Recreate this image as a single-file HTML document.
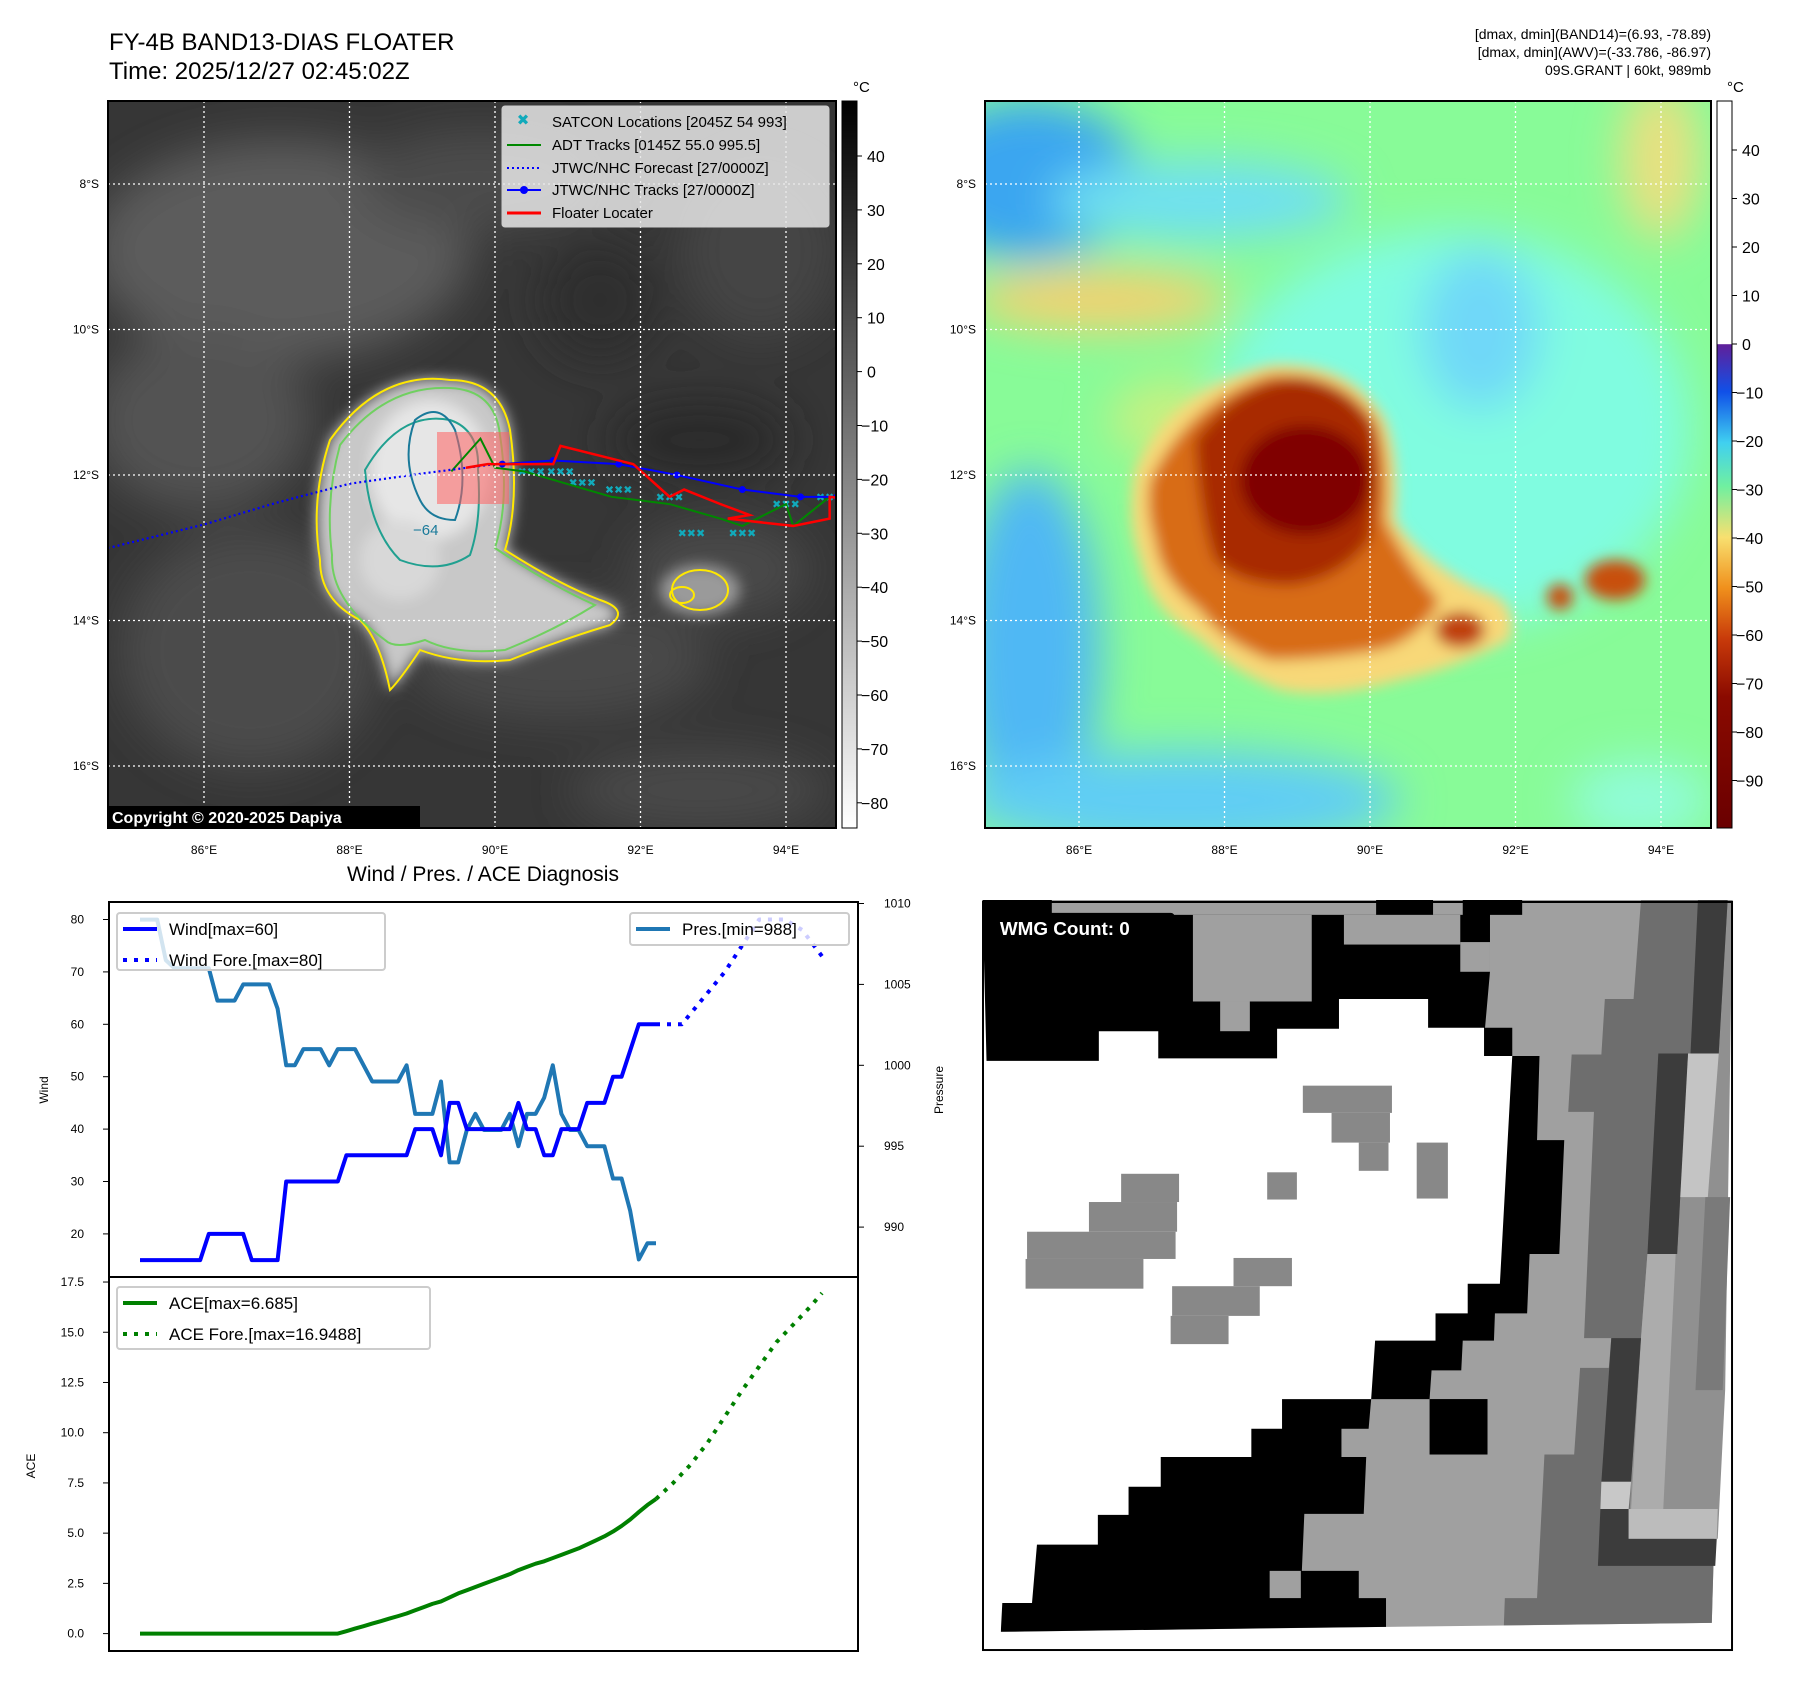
<!DOCTYPE html>
<html><head><meta charset="utf-8"><style>
body{margin:0;background:#fff}
svg text{font-family:"Liberation Sans","DejaVu Sans",sans-serif}
</style></head><body>
<svg id="s" width="1801" height="1690" viewBox="0 0 1801 1690" xmlns="http://www.w3.org/2000/svg">
<defs>
<filter id="b8" x="-50%" y="-50%" width="200%" height="200%"><feGaussianBlur stdDeviation="7"/></filter>
<filter id="b20" x="-50%" y="-50%" width="200%" height="200%"><feGaussianBlur stdDeviation="22"/></filter>
<filter id="b4" x="-50%" y="-50%" width="200%" height="200%"><feGaussianBlur stdDeviation="4"/></filter>
<clipPath id="cl"><rect x="108" y="101" width="728" height="727"/></clipPath>
<clipPath id="cr"><rect x="985" y="101" width="726" height="727"/></clipPath>
<linearGradient id="gcb" x1="0" y1="0" x2="0" y2="1"><stop offset="0" stop-color="#000"/><stop offset="1" stop-color="#fff"/></linearGradient>
<linearGradient id="jcb" x1="0" y1="0" x2="0" y2="1">
<stop offset="0" stop-color="#fff"/><stop offset="0.334" stop-color="#fff"/><stop offset="0.335" stop-color="#60209a"/>
<stop offset="0.4" stop-color="#1050e8"/><stop offset="0.47" stop-color="#40d0f0"/><stop offset="0.53" stop-color="#70f0a0"/>
<stop offset="0.6" stop-color="#f8e070"/><stop offset="0.67" stop-color="#f0901c"/><stop offset="0.74" stop-color="#c83a0a"/>
<stop offset="0.82" stop-color="#8a0a00"/><stop offset="1" stop-color="#6a0000"/></linearGradient>
</defs>

<text x="109" y="50" font-size="24">FY-4B BAND13-DIAS FLOATER</text>
<text x="109" y="79" font-size="24">Time: 2025/12/27 02:45:02Z</text>
<g font-size="14" text-anchor="end">
<text x="1711" y="39">[dmax, dmin](BAND14)=(6.93, -78.89)</text>
<text x="1711" y="57">[dmax, dmin](AWV)=(-33.786, -86.97)</text>
<text x="1711" y="75">09S.GRANT | 60kt, 989mb</text>
</g>

<!-- LEFT MAP -->
<g clip-path="url(#cl)">
<rect x="108" y="101" width="728" height="727" fill="#363636"/>
<g filter="url(#b20)">
<ellipse cx="280" cy="250" rx="190" ry="110" fill="#5c5c5c"/>
<ellipse cx="200" cy="420" rx="110" ry="90" fill="#525252"/>
<ellipse cx="480" cy="180" rx="120" ry="50" fill="#4c4c4c"/>
<ellipse cx="250" cy="650" rx="130" ry="120" fill="#4c4c4c"/>
<ellipse cx="560" cy="660" rx="150" ry="60" fill="#4a4a4a"/>
<ellipse cx="760" cy="250" rx="80" ry="90" fill="#444"/>
<ellipse cx="720" cy="570" rx="90" ry="50" fill="#4a4a4a"/>
<ellipse cx="700" cy="790" rx="130" ry="40" fill="#4a4a4a"/>
<ellipse cx="700" cy="440" rx="90" ry="40" fill="#2a2a2a"/>
<ellipse cx="600" cy="300" rx="60" ry="60" fill="#2e2e2e"/>
</g>
<g filter="url(#b8)">
<path d="M330 440 Q380 370 450 380 Q500 380 510 430 Q520 500 505 550 Q560 585 600 600 Q630 610 610 625 Q560 640 510 660 Q460 665 420 650 Q400 680 390 690 Q380 640 360 620 Q320 600 320 560 Q310 500 330 440Z" fill="#c8c8c8"/>
<ellipse cx="430" cy="470" rx="60" ry="70" fill="#e6e6e6"/>
<ellipse cx="400" cy="560" rx="40" ry="40" fill="#d8d8d8"/>
<ellipse cx="700" cy="590" rx="40" ry="25" fill="#9a9a9a"/>
</g>
<path d="M330 440 Q380 370 450 380 Q500 380 510 430 Q520 500 505 550 Q560 585 600 600 Q630 610 610 625 Q560 640 510 660 Q460 665 420 650 Q400 680 390 690 Q380 640 360 620 Q320 600 320 560 Q310 500 330 440Z" fill="none" stroke="#ffe800" stroke-width="2"/>
<path d="M340 445 Q385 385 450 388 Q495 390 500 435 Q510 500 495 548 Q550 585 595 605 Q555 630 505 650 Q455 655 425 640 Q395 650 385 640 Q330 600 332 555 Q325 500 340 445Z" fill="none" stroke="#70d060" stroke-width="2"/>
<path d="M365 470 Q400 410 450 420 Q480 430 478 470 Q482 520 470 555 Q440 575 400 560 Q370 530 365 470Z" fill="none" stroke="#20a090" stroke-width="2"/>
<path d="M415 420 Q440 400 455 430 Q470 480 455 520 Q430 520 420 500 Q400 460 415 420Z" fill="none" stroke="#1a7a9a" stroke-width="2"/>
<text x="413" y="535" font-size="15" fill="#1a7a9a">−64</text>
<ellipse cx="700" cy="590" rx="28" ry="20" fill="none" stroke="#ffe800" stroke-width="2"/>
<ellipse cx="682" cy="595" rx="12" ry="8" fill="none" stroke="#ffe800" stroke-width="2"/>
<rect x="437" y="432" width="72" height="72" fill="#ff6060" opacity="0.55"/>
<g id="maptracks"></g>
</g>
<g stroke="#fff" stroke-width="1.3" stroke-dasharray="2,3" id="lgrid"></g>
<rect x="108" y="101" width="728" height="727" fill="none" stroke="#000" stroke-width="2"/>
<rect x="108" y="806" width="312" height="22" fill="#000"/>
<text x="112" y="823" font-size="16" font-weight="bold" fill="#fff">Copyright © 2020-2025 Dapiya</text>
<g>
<rect x="502" y="106" width="327" height="121" rx="3" fill="#e6e6e6" fill-opacity="0.85" stroke="#ccc"/>
<text x="523" y="125" font-size="15" fill="#1ab" text-anchor="middle" font-weight="bold">✖</text>
<text x="552" y="127" font-size="15">SATCON Locations [2045Z 54 993]</text>
<line x1="507" y1="145" x2="541" y2="145" stroke="#080" stroke-width="2"/>
<text x="552" y="150" font-size="15">ADT Tracks [0145Z 55.0 995.5]</text>
<line x1="507" y1="168" x2="541" y2="168" stroke="#00f" stroke-width="2" stroke-dasharray="2,3"/>
<text x="552" y="173" font-size="15">JTWC/NHC Forecast [27/0000Z]</text>
<line x1="507" y1="190" x2="541" y2="190" stroke="#00f" stroke-width="2"/><circle cx="524" cy="190" r="4" fill="#00f"/>
<text x="552" y="195" font-size="15">JTWC/NHC Tracks [27/0000Z]</text>
<line x1="507" y1="213" x2="541" y2="213" stroke="#f00" stroke-width="3"/>
<text x="552" y="218" font-size="15">Floater Locater</text>
</g>
<rect x="842" y="101" width="15" height="727" fill="url(#gcb)" stroke="#000"/>
<text x="853" y="92" font-size="15">°C</text>
<g id="lcb" font-size="16"></g>

<!-- RIGHT MAP -->
<g clip-path="url(#cr)">
<rect x="985" y="101" width="726" height="727" fill="#88fb98"/>
<g filter="url(#b20)">
<ellipse cx="1450" cy="430" rx="240" ry="200" fill="#80fce0"/>
<ellipse cx="1480" cy="330" rx="60" ry="80" fill="#6fd8f8"/>
<ellipse cx="1030" cy="180" rx="110" ry="80" fill="#3aa6f0"/>
<ellipse cx="1200" cy="200" rx="150" ry="40" fill="#70e0f0"/>
<ellipse cx="1030" cy="650" rx="70" ry="180" fill="#50b8f4"/>
<ellipse cx="1180" cy="800" rx="220" ry="50" fill="#60cdf4"/>
<ellipse cx="1640" cy="800" rx="70" ry="40" fill="#90fcd8"/>
<ellipse cx="1100" cy="300" rx="130" ry="30" fill="#f6d070"/>
<ellipse cx="1170" cy="420" rx="60" ry="40" fill="#c8f080"/>
<ellipse cx="1660" cy="160" rx="40" ry="80" fill="#e8e080"/>
</g>
<g filter="url(#b8)">
<path d="M1135 470 Q1170 390 1270 365 Q1350 360 1385 420 Q1400 460 1395 520 Q1420 560 1480 590 Q1520 600 1510 640 Q1450 670 1400 680 Q1330 700 1280 690 Q1230 670 1200 640 Q1150 610 1140 560 Q1125 520 1135 470Z" fill="#f8d878"/>
<path d="M1150 480 Q1190 400 1270 375 Q1340 370 1375 420 Q1390 460 1385 520 Q1410 570 1440 600 Q1420 640 1380 650 Q1320 660 1270 660 Q1220 640 1200 610 Q1160 580 1155 540 Q1145 510 1150 480Z" fill="#d86c18"/>
<path d="M1195 440 Q1240 380 1300 378 Q1350 385 1375 430 Q1380 490 1370 540 Q1340 580 1290 585 Q1240 585 1215 560 Q1200 520 1195 440Z" fill="#a82c04"/>
<ellipse cx="1305" cy="480" rx="65" ry="55" fill="#800000"/>
<ellipse cx="1615" cy="580" rx="30" ry="20" fill="#c85010"/>
<ellipse cx="1560" cy="597" rx="13" ry="13" fill="#c85010"/>
<ellipse cx="1460" cy="630" rx="25" ry="18" fill="#c04010"/>
</g>
</g>
<g stroke="#fff" stroke-width="1.3" stroke-dasharray="2,3" id="rgrid"></g>
<rect x="985" y="101" width="726" height="727" fill="none" stroke="#000" stroke-width="2"/>
<rect x="1717" y="101" width="15" height="727" fill="url(#jcb)" stroke="#000"/>
<text x="1727" y="92" font-size="15">°C</text>
<g id="rcb" font-size="16"></g>

<text x="483" y="881" font-size="21" text-anchor="middle">Wind / Pres. / ACE Diagnosis</text>
<g id="chart"></g>

<!-- WMG -->
<g transform="translate(983,902) scale(0.9934) translate(-988,-907)">
<rect x="988" y="907" width="754" height="753" fill="#fff"/>
<g transform="translate(985,900) scale(0.4984)">
<polygon points="20,10 1520,10 1478,1470 42,1488" fill="#a0a0a0"/>
<polygon points="5,10 1095,10 1095,40 1030,40 1030,155 1020,268 1075,268 1075,325 1130,325 1125,495 1180,495 1170,725 1110,725 1105,845 1040,845 1038,900 975,900 972,960 912,960 908,1018 790,1018 780,1135 775,1250 655,1250 650,1365 765,1365 765,1420 820,1420 820,1478 42,1488" fill="#000"/>
<polygon points="5,335 240,335 240,275 360,275 360,330 600,330 600,270 725,270 725,210 905,210 905,268 1018,268 1018,325 1075,325 1050,785 985,785 985,845 920,845 920,900 798,900 790,1018 610,1018 610,1078 548,1078 548,1135 365,1135 365,1195 300,1195 300,1252 238,1252 238,1312 115,1312 105,1430 45,1430 42,1488 5,1488" fill="#fff"/>
<g fill="#a0a0a0">
<rect x="145" y="10" width="655" height="30"/><rect x="430" y="40" width="240" height="175"/><rect x="485" y="215" width="60" height="60"/>
<rect x="735" y="40" width="235" height="60"/><rect x="915" y="10" width="60" height="30"/><rect x="970" y="95" width="60" height="60"/>
<rect x="730" y="1078" width="60" height="57"/><rect x="585" y="1365" width="63" height="55"/></g>
<rect x="908" y="1018" width="117" height="112" fill="#000"/>
<g fill="#888">
<rect x="652" y="385" width="180" height="55"/><rect x="710" y="440" width="118" height="60"/><rect x="765" y="500" width="60" height="57"/>
<rect x="882" y="500" width="63" height="113"/><rect x="580" y="560" width="60" height="55"/><rect x="285" y="563" width="117" height="57"/>
<rect x="220" y="620" width="178" height="60"/><rect x="95" y="680" width="300" height="55"/><rect x="92" y="735" width="238" height="60"/>
<rect x="512" y="733" width="118" height="57"/><rect x="388" y="790" width="177" height="60"/><rect x="385" y="850" width="117" height="57"/></g>
<polygon points="1335,10 1520,10 1478,1470 1058,1475 1060,1420 1125,1420 1140,1130 1200,1130 1212,955 1270,955 1275,895 1220,895 1240,438 1188,438 1195,322 1255,322 1262,210 1320,210" fill="#6e6e6e"/>
<polygon points="1348,725 1408,725 1430,320 1492,320 1510,10 1520,10 1505,1000 1490,1300 1310,1300 1315,1185 1335,895" fill="#909090"/>
<polygon points="1430,320 1492,320 1470,610 1410,610" fill="#c4c4c4"/>
<polygon points="1348,725 1405,725 1380,1240 1315,1240 1335,895" fill="#acacac"/>
<polygon points="1465,610 1515,610 1500,1000 1445,1000" fill="#7a7a7a"/>
<polygon points="1450,10 1510,10 1492,320 1435,320" fill="#3c3c3c"/>
<polygon points="1370,320 1430,320 1408,725 1348,725" fill="#3c3c3c"/>
<polygon points="1275,895 1335,895 1315,1185 1255,1185" fill="#3c3c3c"/>
<polygon points="1255,1185 1315,1185 1310,1240 1253,1240" fill="#c8c8c8"/>
<polygon points="1253,1240 1310,1240 1310,1300 1488,1300 1485,1355 1248,1355" fill="#3c3c3c"/>
<polygon points="1310,1240 1490,1240 1488,1300 1310,1300" fill="#bcbcbc"/>
</g>
<rect x="998" y="918" width="183" height="30" rx="4" fill="#000"/>
<text x="1005" y="940" font-size="19" font-weight="bold" fill="#fff">WMG Count: 0</text>
<rect x="988" y="907" width="754" height="753" fill="none" stroke="#000" stroke-width="2"/>
</g>
</svg>
<script>
const lonTicks=[86,88,90,92,94];
const latTicks=[8,10,12,14,16];
const lcbTicks=[40,30,20,10,0,-10,-20,-30,-40,-50,-60,-70,-80];
const rcbTicks=[40,30,20,10,0,-10,-20,-30,-40,-50,-60,-70,-80,-90];
const jtwcLon=[90.1,90.8,91.7,92.5,93.4,94.2,94.7];
const jtwcLat=[11.85,11.8,11.85,12.0,12.2,12.3,12.3];
const foreLon=[90.0,89.0,88.0,87.0,86.0,84.7];
const foreLat=[11.85,11.98,12.12,12.38,12.68,13.0];
const floLon=[89.6,89.9,90.8,90.9,91.9,92.4,92.6,93.1,93.5,93.2,94.1,94.6,94.6,95.0];
const floLat=[11.9,11.85,11.85,11.6,11.85,12.3,12.2,12.4,12.55,12.6,12.7,12.6,12.3,12.35];
const adtLon=[89.4,89.8,90.0,90.4,91.6,92.4,93.1,93.4,94.0,94.1,94.6];
const adtLat=[11.95,11.5,11.9,11.95,12.3,12.4,12.6,12.7,12.4,12.7,12.3];
const satLon=[90.5,90.9,91.2,91.7,92.4,92.7,93.4,94.0,94.6];
const satLat=[11.95,11.95,12.1,12.2,12.3,12.8,12.8,12.4,12.3];

const uObs=[0,1,2,3,4,5,6,7,8,9,10,11,12,13,14,15,16,17,18,19,20,21,22,23,24,25,26,27,28,29,30,31,32,33,34,35,36,37,38,39,40,41,42,43,44,45,46,47,48,49,50,51,52,53,54,55,56,57,58,59,60];
const windObs=[15,15,15,15,15,15,15,15,20,20,20,20,20,15,15,15,15,30,30,30,30,30,30,30,35,35,35,35,35,35,35,35,40,40,40,35,45,45,40,40,40,40,40,40,45,40,40,35,35,40,40,40,45,45,45,50,50,55,60,60,60];
const presObs=[1009,1009,1009,1006.5,1006,1006,1006,1006,1006,1004,1004,1004,1005,1005,1005,1005,1003.5,1000,1000,1001,1001,1001,1000,1001,1001,1001,1000,999,999,999,999,1000,997,997,997,999,994,994,996,997,996,996,996,997,995,997,997,998,1000,997,996,996,995,995,995,993,993,991,988,989,989];
const aceObs=[0,0,0,0,0,0,0,0,0,0,0,0,0,0,0,0,0,0,0,0,0,0,0,0,0.12,0.25,0.37,0.5,0.62,0.75,0.87,1.0,1.16,1.32,1.48,1.6,1.8,2.0,2.16,2.32,2.48,2.64,2.8,2.96,3.16,3.32,3.48,3.6,3.76,3.92,4.08,4.24,4.44,4.64,4.84,5.08,5.36,5.68,6.05,6.4,6.7];
const uFore=[60,63,66,68,70,72,75,77,79.3];
const windFore=[60,60,66,70,75,80,80,78,73];
const uAceFore=[60,62,64,66,68,70,72,74,76,78,79.3];
const aceFore=[6.7,7.5,8.4,9.5,10.8,12.1,13.3,14.5,15.4,16.3,16.95];
const windTicks=[20,30,40,50,60,70,80];
const presTicks=[990,995,1000,1005,1010];
const aceTicks=[0,2.5,5,7.5,10,12.5,15,17.5];

const NS='http://www.w3.org/2000/svg';
function mk(p,tag,attrs){const e=document.createElementNS(NS,tag);for(const k in attrs)e.setAttribute(k,attrs[k]);p.appendChild(e);return e;}
const lx=lon=>204+(lon-86)*72.75, ly=lat=>184+(lat-8)*72.75;
const rx=lon=>lx(lon)+875;
const lg=document.getElementById('lgrid'), rg=document.getElementById('rgrid'), svg=document.getElementById('s');
lonTicks.forEach(v=>{
 mk(lg,'line',{x1:lx(v),y1:101,x2:lx(v),y2:828});
 mk(rg,'line',{x1:rx(v),y1:101,x2:rx(v),y2:828});
 let t=mk(svg,'text',{x:lx(v),y:854,'font-size':12,'text-anchor':'middle'});t.textContent=v+'°E';
 
 
 let t2=mk(svg,'text',{x:rx(v),y:854,'font-size':12,'text-anchor':'middle'});t2.textContent=v+'°E';
 
 
});
latTicks.forEach(v=>{
 mk(lg,'line',{x1:108,y1:ly(v),x2:836,y2:ly(v)});
 mk(rg,'line',{x1:985,y1:ly(v),x2:1711,y2:ly(v)});
 let t=mk(svg,'text',{x:99,y:ly(v)+4,'font-size':12,'text-anchor':'end'});t.textContent=v+'°S';
 
 
 let t2=mk(svg,'text',{x:976,y:ly(v)+4,'font-size':12,'text-anchor':'end'});t2.textContent=v+'°S';
 
 
});
const lcb=document.getElementById('lcb');
lcbTicks.forEach(v=>{const y=156+(40-v)*5.39;mk(lcb,'line',{x1:857,y1:y,x2:862,y2:y,stroke:'#000'});
 const t=mk(lcb,'text',{x:(v<0?861:867),y:y+6});t.textContent=(v<0?'−'+(-v):v);
 
 });
const rcb=document.getElementById('rcb');
rcbTicks.forEach(v=>{const y=344-v*4.85;mk(rcb,'line',{x1:1732,y1:y,x2:1737,y2:y,stroke:'#000'});
 const t=mk(rcb,'text',{x:(v<0?1736:1742),y:y+6});t.textContent=(v<0?'−'+(-v):v);
 
 });
const mt=document.getElementById('maptracks');
const pts=(a,b)=>a.map((v,i)=>lx(v)+','+ly(b[i])).join(' ');
satLon.forEach((v,i)=>{const t=mk(mt,'text',{x:lx(v),y:ly(satLat[i])+4,'font-size':11,fill:'#1ab','text-anchor':'middle'});t.textContent='✖✖✖';
 
 });
let e=mk(mt,'polyline',{points:pts(adtLon,adtLat),fill:'none',stroke:'#080','stroke-width':2});


e=mk(mt,'polyline',{points:pts(foreLon,foreLat),fill:'none',stroke:'#00f','stroke-width':2.2,'stroke-dasharray':'2,3'});


e=mk(mt,'polyline',{points:pts(jtwcLon,jtwcLat),fill:'none',stroke:'#00f','stroke-width':2});


jtwcLon.forEach((v,i)=>mk(mt,'circle',{cx:lx(v),cy:ly(jtwcLat[i]),r:3.5,fill:'#00f'}));
e=mk(mt,'polyline',{points:pts(floLon,floLat),fill:'none',stroke:'#f00','stroke-width':2.5});



const ch=document.getElementById('chart');
const L=109,R=858,T=902,M=1277,B=1651;
const X=u=>140+u*8.6, YW=w=>919.5+(80-w)*5.24, YP=p=>903.5+(1010-p)*16.18, YA=a=>1633.6-a*20.09;
mk(ch,'rect',{x:L,y:T,width:R-L,height:B-T,fill:'#fff',stroke:'#000','stroke-width':2});
mk(ch,'line',{x1:L,y1:M,x2:R,y2:M,stroke:'#000','stroke-width':2});
windTicks.forEach(v=>{mk(ch,'line',{x1:L-6,y1:YW(v),x2:L,y2:YW(v),stroke:'#000'});const t=mk(ch,'text',{x:84,y:YW(v)+4,'font-size':12,'text-anchor':'end'});t.textContent=v;
 
 });
presTicks.forEach(v=>{mk(ch,'line',{x1:R,y1:YP(v),x2:R+6,y2:YP(v),stroke:'#000'});const t=mk(ch,'text',{x:R+26,y:YP(v)+4,'font-size':12});t.textContent=v;
 
 });
aceTicks.forEach(v=>{mk(ch,'line',{x1:L-6,y1:YA(v),x2:L,y2:YA(v),stroke:'#000'});const t=mk(ch,'text',{x:84,y:YA(v)+4,'font-size':12,'text-anchor':'end'});t.textContent=v.toFixed(1);
 
 });
[['Wind',48,1090],['Pressure',943,1090],['ACE',35,1466]].forEach(a=>{const t=mk(ch,'text',{x:a[1],y:a[2],'font-size':12,'text-anchor':'middle',transform:`rotate(-90 ${a[1]} ${a[2]})`});t.textContent=a[0];
 
 });
const line=(us,vs,f,attrs)=>mk(ch,'polyline',Object.assign({points:us.map((u,i)=>X(u)+','+f(vs[i])).join(' '),fill:'none','stroke-linejoin':'round'},attrs));
e=line(uObs,presObs,YP,{stroke:'#1f77b4','stroke-width':4});


e=line(uObs,windObs,YW,{stroke:'#00f','stroke-width':4});


e=line(uFore,windFore,YW,{stroke:'#00f','stroke-width':4,'stroke-dasharray':'4,7'});


e=line(uObs,aceObs,YA,{stroke:'#008000','stroke-width':4});


e=line(uAceFore,aceFore,YA,{stroke:'#008000','stroke-width':4,'stroke-dasharray':'4,7'});


function legend(x,y,w,h,items,name){const g=mk(ch,'g',{});
 
 
 mk(g,'rect',{x:x,y:y,width:w,height:h,rx:3,fill:'#fff','fill-opacity':0.8,stroke:'#ccc','stroke-width':2});
 items.forEach((it,i)=>{const yy=y+16+i*31;mk(g,'line',{x1:x+6,y1:yy,x2:x+40,y2:yy,stroke:it[1],'stroke-width':4,'stroke-dasharray':it[2]});
 const t=mk(g,'text',{x:x+52,y:yy+6,'font-size':17});t.textContent=it[0];});}
legend(117,913,268,57,[['Wind[max=60]','#00f','none'],['Wind Fore.[max=80]','#00f','4,7']],'wind-legend');
legend(630,913,219,32,[['Pres.[min=988]','#1f77b4','none']],'pressure-legend');
legend(117,1287,313,62,[['ACE[max=6.685]','#008000','none'],['ACE Fore.[max=16.9488]','#008000','4,7']],'ace-legend');
</script>
</body></html>
